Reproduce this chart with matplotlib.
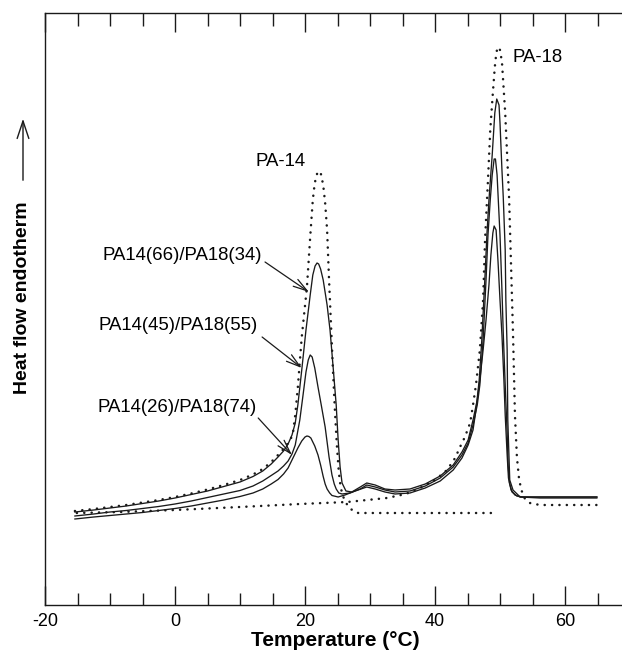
import matplotlib
matplotlib.use("Agg")
import matplotlib.pyplot as plt
from matplotlib.ticker import MultipleLocator, FuncFormatter

plt.rcParams['font.family'] = ['Liberation Sans', 'DejaVu Sans']
plt.rcParams['axes.unicode_minus'] = False

# ---- data (temperature in °C, heat flow in arbitrary units) ----
pa14_T = [-15.4, -12.5, -10, -7.5, -5, -2.5, 0, 2.5, 5, 7.5, 10, 12, 13.5, 14.8, 15.85, 16.7, 17.4,
          17.8, 18.15, 18.5, 18.9, 19.5, 20.3, 20.8, 21.2, 21.5, 21.85, 22.15, 22.45, 22.8, 23.1,
          23.4, 23.7, 24.0, 24.3, 24.6, 24.9, 25.2, 25.5, 26.0, 26.6, 27.4, 28.2, 34.6, 42.3, 49.2]
pa14_H = [94, 96, 98, 100, 102.5, 105, 108, 111.5, 115.5, 120, 125, 130.5, 136, 143, 150, 156, 162,
          166, 172, 190, 218, 268, 318, 368, 405, 422, 431, 434, 431, 420, 402,
          375, 325, 280, 235, 195, 160, 133, 117, 106, 99, 94, 92, 92, 92, 92]

pa18_T = [-15.1, -8.5, 0, 10, 19.2, 26.5, 32.6, 35.5, 37.7, 40.0, 41.85, 43.1, 43.85, 44.6, 45.4,
          45.85, 46.3, 46.9, 47.4, 47.7, 48.15, 48.5, 48.9, 49.2, 49.45, 49.7, 50.0, 50.3, 50.8,
          51.4, 52.0, 52.3, 52.6, 52.9, 53.2, 53.5, 53.85, 54.6, 56.15, 60.8, 64.9]
pa18_H = [92, 93, 95, 98, 101, 103, 107, 111, 117, 125, 135, 147, 158, 168, 182,
          200, 220, 255, 305, 365, 425, 475, 512, 538, 553, 558, 555, 543, 492,
          407, 272, 190, 148, 128, 117, 111, 106, 102, 100, 100, 100]

b66_T = [-15.4, -12.5, -10, -7.5, -5, -2.5, 0, 2.5, 5, 7.5, 10, 12, 13.5, 14.8, 15.85, 16.7, 17.4,
         18.0, 18.5, 18.9, 19.5, 20.15, 20.8, 21.2, 21.55, 21.85, 22.1, 22.4, 22.8, 23.4, 23.85,
         24.3, 24.8, 25.1, 25.4, 25.7, 26.3, 27.2, 28.5, 29.5, 30.8, 32.3, 33.85, 36.15, 38.5,
         40.8, 42.8, 44.15, 45.1, 45.85, 46.5, 46.9, 47.4, 47.85, 48.3, 48.6, 48.9, 49.1, 49.4,
         49.7, 50.0, 50.3, 50.6, 50.8, 51.1, 51.3, 51.7, 52.3, 53.1, 56.15, 60.8, 64.9]
b66_H = [93, 95, 97, 99, 101.5, 104, 107, 110.5, 114, 118.5, 123, 128.5, 134, 141, 148, 154, 161,
         170, 182, 200, 235, 275, 310, 330, 339, 342, 341, 336, 325, 300, 275,
         240, 200, 165, 138, 122, 114, 113, 118, 122, 120, 116, 115, 116, 121,
         129, 140, 153, 165, 185, 205, 225, 255, 285, 320, 350, 372, 379, 375,
         343, 305, 270, 225, 190, 150, 127, 115, 110, 108, 108, 108, 108]

b45_T = [-15.4, -12.5, -10, -7.5, -5, -2.5, 0, 2.5, 5, 7.5, 10, 12, 13.5, 14.8, 15.85, 16.7, 17.4,
         18.0, 18.5, 19.2, 19.7, 20.15, 20.5, 20.8, 21.1, 21.5, 22.0, 22.5, 23.1, 23.7, 24.15,
         24.5, 24.8, 25.2, 25.7, 26.9, 28.5, 29.5, 30.8, 32.3, 33.85, 36.15, 38.5, 40.8, 42.8,
         44.15, 45.1, 45.85, 46.5, 46.9, 47.4, 47.85, 48.15, 48.5, 48.8, 49.1, 49.3, 49.55, 49.85,
         50.0, 50.3, 50.5, 50.8, 51.1, 51.25, 51.45, 51.85, 52.6, 53.5, 56.15, 60.8, 64.9]
b45_H = [89, 91, 93, 94.5, 96.5, 98.5, 101, 104, 107.5, 111, 114.5, 119, 124, 129.5, 134, 139, 144,
         151, 160, 185, 210, 233, 245, 250, 248, 237, 218, 200, 178, 148, 130,
         121, 116, 112, 111, 112, 116, 120, 118, 115, 113, 114, 119, 127, 138,
         150, 162, 180, 200, 220, 265, 325, 370, 405, 430, 446, 446, 430, 390,
         370, 315, 272, 220, 172, 140, 122, 113, 109, 108, 108, 108, 108]

b26_T = [-15.4, -12.5, -10, -7.5, -5, -2.5, 0, 2.5, 5, 7.5, 10, 12, 13.5, 14.8, 15.85, 16.7, 17.4,
         18.15, 18.9, 19.5, 20.0, 20.3, 20.6, 20.9, 21.5, 22.0, 22.4, 22.8, 23.1, 23.4, 23.8, 24.15,
         25.1, 26.15, 27.7, 29.5, 30.8, 32.3, 33.85, 36.15, 38.5, 40.8, 42.8, 44.15, 45.1, 45.85,
         46.3, 46.8, 47.2, 47.7, 48.0, 48.3, 48.8, 49.2, 49.5, 49.85, 50.0, 50.3, 50.5, 50.8,
         50.9, 51.1, 51.2, 51.4, 51.5, 52.0, 53.1, 56.15, 60.8, 64.9]
b26_H = [86, 88, 89.5, 91, 92.5, 94.5, 96.5, 99, 102, 105, 108.5, 112, 116, 121, 125.5, 131, 137,
         147, 157, 164, 168, 169, 168.5, 167, 159, 150, 140, 128.5, 121, 116, 112, 109.5,
         108, 110, 114, 118, 116, 113, 111, 112, 117, 124, 135, 147, 160, 175,
         195, 225, 265, 330, 372, 405, 450, 492, 506, 500, 482, 435, 408, 355,
         305, 255, 185, 145, 125, 115, 108, 107, 107, 107]

labels = ['PA14(66)/PA18(34)', 'PA14(45)/PA18(55)', 'PA14(26)/PA18(74)', 'PA-14', 'PA-18']

# ---- figure ----
W, H = 622, 655
fig = plt.figure(figsize=(W / 100, H / 100), dpi=100)
ax = fig.add_axes([45 / W, 50 / H, 585 / W, 592 / H])
ax.set_xlim(-20, 70)
ax.set_ylim(0, 592)

dot = dict(color='#1a1a1a', lw=1.8, linestyle=(0, (0.05, 2.9)), dash_capstyle='round')
sol = dict(color='#1a1a1a', lw=0.95)
ax.plot(pa14_T, pa14_H, **dot)
ax.plot(pa18_T, pa18_H, **dot)
ax.plot(b66_T, b66_H, **sol)
ax.plot(b45_T, b45_H, **sol)
ax.plot(b26_T, b26_H, **sol)

for s in ax.spines.values():
    s.set_linewidth(1.0)
    s.set_color('#1a1a1a')
ax.spines['right'].set_visible(False)

ax.xaxis.set_major_locator(MultipleLocator(20))
ax.xaxis.set_minor_locator(MultipleLocator(5))
ax.xaxis.set_major_formatter(FuncFormatter(lambda v, p: f"{int(round(v))}"))
ax.tick_params(axis='x', which='major', direction='in', top=True, bottom=True,
               length=13.5, width=1.0, labelsize=13, pad=6, color='#1a1a1a')
ax.tick_params(axis='x', which='minor', direction='in', top=True, bottom=True,
               length=9, width=1.0, color='#1a1a1a')
ax.set_yticks([])

fs = 13.4
ax.text(13.38, 349, labels[0], ha='right', va='center', fontsize=fs)
ax.text(12.77, 279, labels[1], ha='right', va='center', fontsize=fs)
ax.text(12.6, 197, labels[2], ha='right', va='center', fontsize=fs)
ax.text(12.46, 444, labels[3], ha='left', va='center', fontsize=fs)
ax.text(51.85, 547, labels[4], ha='left', va='center', fontsize=fs)

ap = dict(arrowstyle='->,head_length=0.75,head_width=0.22', lw=0.9, color='#1a1a1a',
          shrinkA=0, shrinkB=0)
ax.annotate('', xy=(20.6, 313), xytext=(13.85, 343), arrowprops=ap, fontsize=fs)
ax.annotate('', xy=(19.5, 237), xytext=(13.4, 268), arrowprops=ap, fontsize=fs)
ax.annotate('', xy=(18.0, 150), xytext=(12.8, 187), arrowprops=ap, fontsize=fs)

# y-axis label with arrow
fig.text(23 / W, 1 - 298 / H, 'Heat flow endotherm', rotation=90, ha='center', va='center',
         fontsize=14, fontweight='bold')
fig.patches.append(matplotlib.patches.FancyArrowPatch(
    (23 / W, 1 - 183 / H), (23 / W, 1 - 116 / H), transform=fig.transFigure,
    arrowstyle='->,head_length=0.9,head_width=0.3', mutation_scale=14, lw=1.0, color='#1a1a1a'))

fig.text(335 / W, 1 - 640 / H, 'Temperature (°C)', ha='center', va='center',
         fontsize=15, fontweight='bold')

fig.savefig('out.png', dpi=100)
